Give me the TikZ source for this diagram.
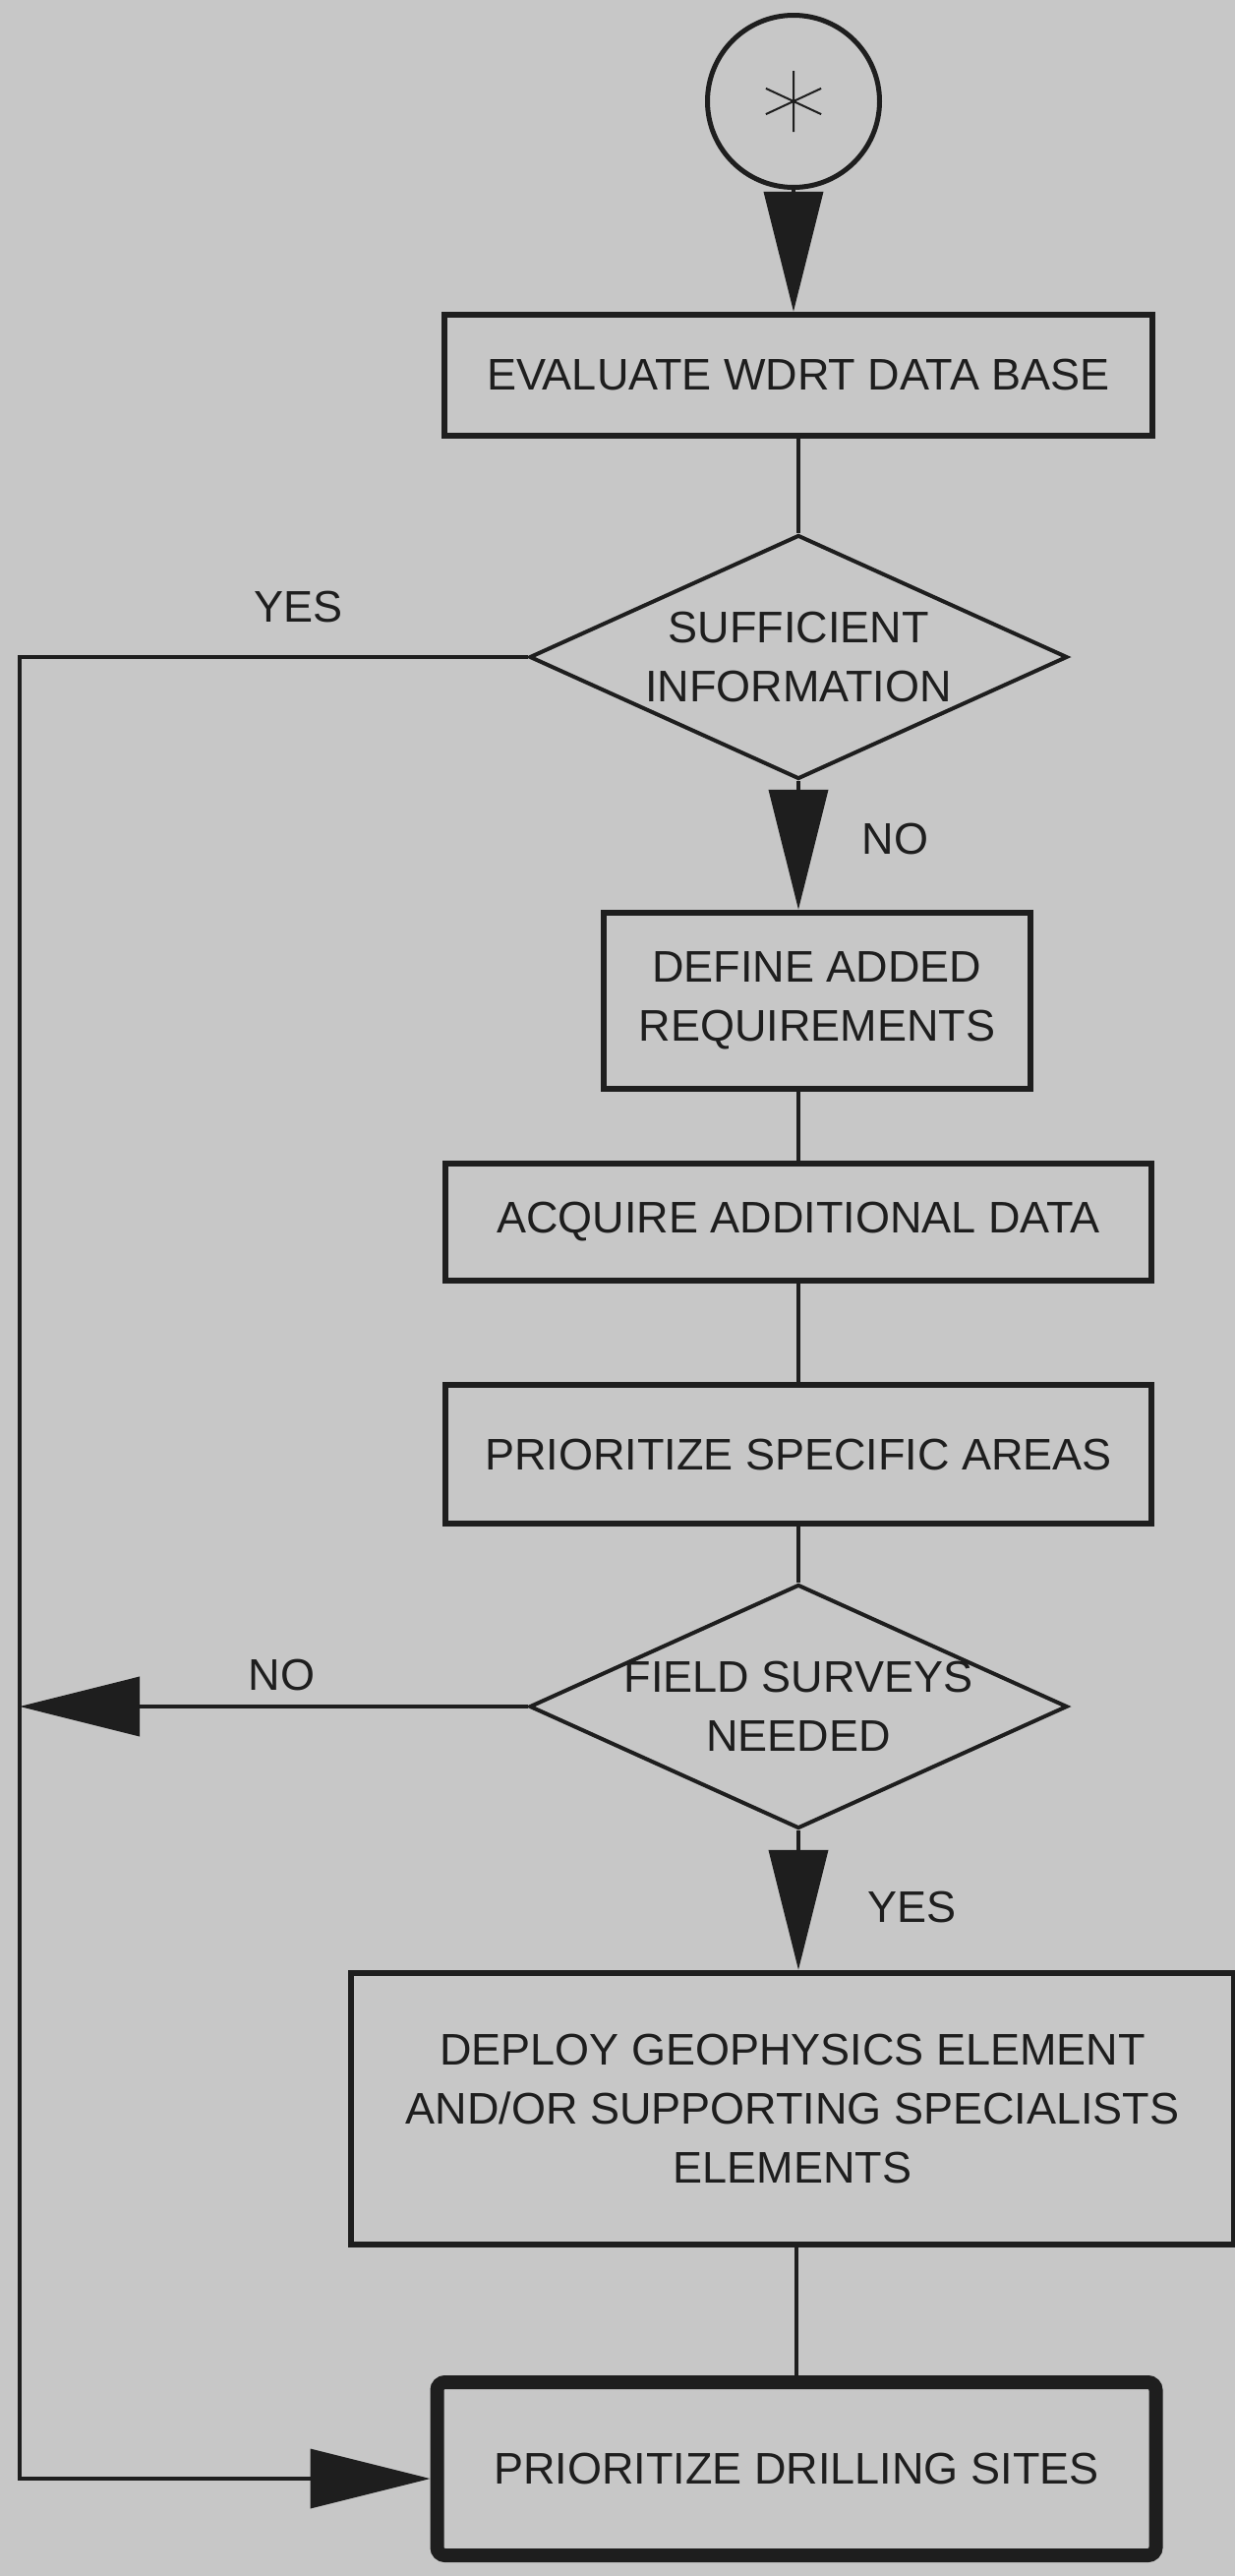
\documentclass[tikz,border=0pt]{standalone}
\usepackage{fontspec}
\setmainfont{Liberation Sans}
\usepackage{tikz}
\usetikzlibrary{shapes.geometric, arrows.meta}
\definecolor{paper}{RGB}{199,199,199}
\definecolor{ink}{RGB}{30,30,30}
\tikzstyle{arrow} = [line width=1.9pt,-{Triangle[length=61pt,width=30pt]}]
\tikzstyle{line} = [line width=1.9pt]

\begin{document}
\begin{tikzpicture}[x=0.5pt,y=-0.5pt,color=ink,
			font=\fontsize{22.5}{30}\selectfont,
			box/.style={rectangle, draw=ink, line width=3.2pt, minimum width=359pt, text centered, align=center},
			decision/.style={diamond, draw=ink, line width=2pt, aspect=2.2, minimum width=273.5pt, minimum height=124pt, inner xsep=-40pt, inner ysep=-15pt, align=center}]
			
			\fill[paper] (0,0) rectangle (1256,2619);
			\useasboundingbox (0,0) rectangle (1256,2619);
			
			\node[circle, draw=ink, line width=2.5pt, minimum size=87.5pt, inner sep=0pt] (1) at (807,103) {};
			\draw[line width=1pt] (1.center) +(90:31) -- +(270:31) +(25:31) -- +(205:31) +(155:31) -- +(335:31);
			
			\node[box, minimum width=360pt, minimum height=61.5pt] (2) [below of=1, node distance=139.25pt, xshift=2.5pt] {EVALUATE WDRT DATA BASE};
			
			\node[decision] (3) [below of=2, node distance=143.25pt] {SUFFICIENT\\INFORMATION};
			
			\node[box, minimum width=217pt, minimum height=89.5pt] (4) [below of=3, node distance=174.75pt, xshift=9.5pt] {DEFINE ADDED\\REQUIREMENTS};
			\node[box, minimum height=59.5pt] (5) [below of=4, node distance=112.5pt, xshift=-9.5pt] {ACQUIRE ADDITIONAL DATA};
			\node[box, minimum height=70.5pt] (6) [below of=5, node distance=118pt] {PRIORITIZE SPECIFIC AREAS};
			
			\node[decision] (7) [below of=6, node distance=128.25pt] {FIELD SURVEYS\\NEEDED};
			
			\node[box, minimum width=449pt, minimum height=138pt] (8) [below of=7, node distance=204.5pt, xshift=-3pt] {DEPLOY GEOPHYSICS ELEMENT\\AND/OR SUPPORTING SPECIALISTS\\ELEMENTS};
			
			\node[box, line width=7pt, rounded corners=4pt, minimum width=365.5pt, minimum height=88pt] (9) [below of=8, node distance=183pt, xshift=2pt] {PRIORITIZE DRILLING SITES};
			
			\coordinate (l) at (20,2520);
			
			\draw[arrow] (1.south) -- (1.south |- 2.north);
			\draw[line] (2.south) -- (3.north);
			\draw[arrow] (3.south) -- node[pos=0.45, right=31.5pt, inner sep=0pt] {NO} (3.south |- 4.north);
			\draw[line] (5.north |- 4.south) -- (5.north);
			\draw[line] (5.south) -- (6.north);
			\draw[line] (6.south) -- (7.north);
			\draw[arrow] (7.south) -- node[pos=0.55, right=34.5pt, inner sep=0pt] {YES} (7.south |- 8.north);
			\draw[line] (8.south -| 9.north) -- (9.north);
			
			% yes / no returns along the left side
			\draw[arrow] (3.west) -| node[pos=0.2255, above=16.5pt, inner sep=0pt] {YES} (l) -- (l -| 9.west);
			\draw[arrow] (7.west) -- node[pos=0.484, above=7pt, inner sep=0pt] {NO} (7.west -| l);
			
\end{tikzpicture}
\end{document}
